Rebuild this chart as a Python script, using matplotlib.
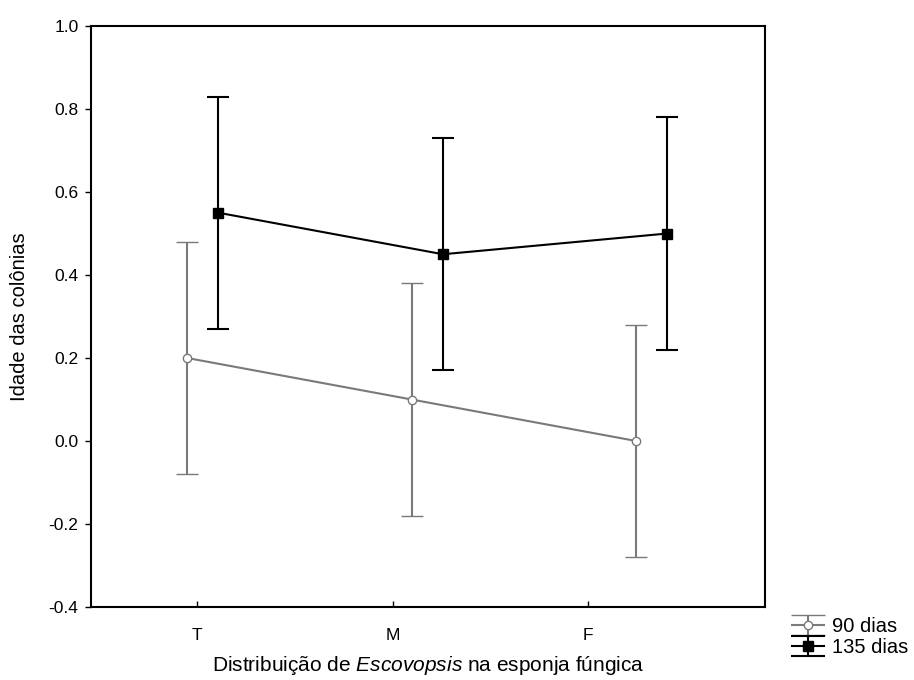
import matplotlib
matplotlib.use("Agg")
import matplotlib.pyplot as plt
import numpy as np

plt.rcParams['font.family'] = ['Liberation Sans', 'DejaVu Sans']
plt.rcParams['mathtext.fontset'] = 'custom'
plt.rcParams['mathtext.rm'] = 'Liberation Sans'
plt.rcParams['mathtext.it'] = 'Liberation Sans:italic'

categories = ["T", "M", "F"]
series_labels = ["90 dias", "135 dias"]
mean_90 = [0.20, 0.10, 0.00]
err_90 = [0.28, 0.28, 0.28]
mean_135 = [0.55, 0.45, 0.50]
err_135 = [0.28, 0.28, 0.28]
yticks = [-0.4, -0.2, 0.0, 0.2, 0.4, 0.6, 0.8, 1.0]

gray = '#7a7a7a'
style_90 = dict(color=gray, lw=1.5, elinewidth=1.5, capthick=1.5, marker='o', ms=6,
                mfc='white', mec=gray, mew=1.0)
style_135 = dict(color='black', lw=1.5, elinewidth=1.5, capthick=1.5, marker='s', ms=7.5,
                 mfc='black', mec='black')

fig = plt.figure(figsize=(9.14, 6.8), dpi=100)
ax = fig.add_axes([91/914, 1-607/680, (765-91)/914, (607-26)/680])

tick_pos = np.arange(1, len(categories) + 1)
step = 1.148
x90 = 0.95 + step * np.arange(len(categories))
x135 = 1.11 + step * np.arange(len(categories))

ax.errorbar(x90, mean_90, yerr=err_90, capsize=8, label=series_labels[0], **style_90)
ax.errorbar(x135, mean_135, yerr=err_135, capsize=8, label=series_labels[1], **style_135)

ax.set_xlim(0.458, 3.905)
ax.set_ylim(-0.4, 1.0)
ax.set_xticks(tick_pos)
ax.set_xticklabels(categories, fontsize=12.5)
ax.set_yticks(yticks)
ax.set_yticklabels([f"{v:.1f}" for v in yticks], fontsize=12.5)
ax.tick_params(axis='x', direction='in', length=4, width=1, pad=15)
ax.tick_params(axis='y', direction='out', length=4, width=1, pad=5)
for s in ax.spines.values():
    s.set_linewidth(1.5)
    s.set_color('black')

ax.set_xlabel("Distribuição de $\\mathit{Escovopsis}$ na esponja fúngica", fontsize=15, labelpad=8)
ax.set_ylabel("Idade das colônias", fontsize=14.5, labelpad=14)

# legend proxies built on a scratch figure
sfig, sax = plt.subplots()
p1 = sax.errorbar([0], [0], yerr=[1], capsize=12, **style_90)
p2 = sax.errorbar([0], [0], yerr=[1], capsize=12, **style_135)

fig.legend(handles=[p1, p2], labels=series_labels, loc='upper left',
           bbox_to_anchor=(778/914, 1-603/680), frameon=False, fontsize=14.5,
           handlelength=1.6, handletextpad=0.4, labelspacing=0.1, borderpad=0.2)

fig.savefig("out.png", dpi=100)
